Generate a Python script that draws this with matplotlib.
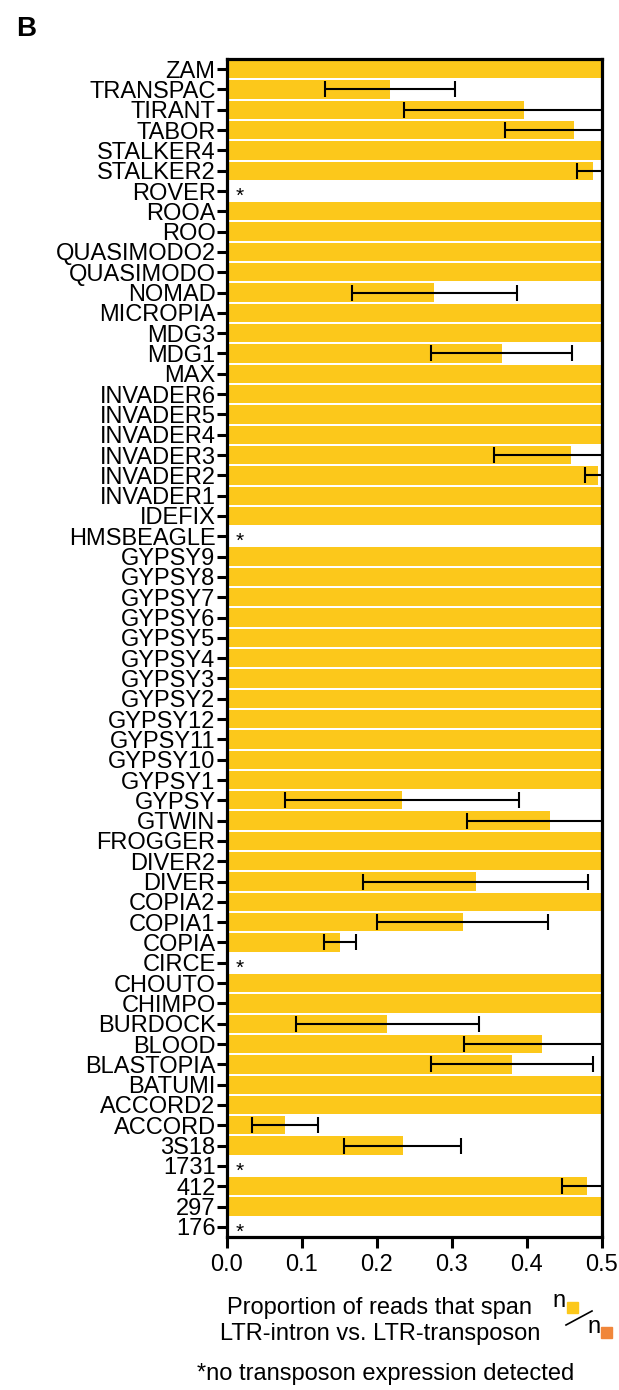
import numpy as np
import matplotlib
matplotlib.use('Agg')
import matplotlib.pyplot as plt
from matplotlib.patches import Rectangle
from matplotlib.lines import Line2D

plt.rcParams['font.family'] = ['Liberation Sans', 'DejaVu Sans']

labels = ['ZAM', 'TRANSPAC', 'TIRANT', 'TABOR', 'STALKER4', 'STALKER2', 'ROVER',
          'ROOA', 'ROO', 'QUASIMODO2', 'QUASIMODO', 'NOMAD', 'MICROPIA', 'MDG3',
          'MDG1', 'MAX', 'INVADER6', 'INVADER5', 'INVADER4', 'INVADER3', 'INVADER2',
          'INVADER1', 'IDEFIX', 'HMSBEAGLE', 'GYPSY9', 'GYPSY8', 'GYPSY7', 'GYPSY6',
          'GYPSY5', 'GYPSY4', 'GYPSY3', 'GYPSY2', 'GYPSY12', 'GYPSY11', 'GYPSY10',
          'GYPSY1', 'GYPSY', 'GTWIN', 'FROGGER', 'DIVER2', 'DIVER', 'COPIA2',
          'COPIA1', 'COPIA', 'CIRCE', 'CHOUTO', 'CHIMPO', 'BURDOCK', 'BLOOD',
          'BLASTOPIA', 'BATUMI', 'ACCORD2', 'ACCORD', '3S18', '1731', '412', '297', '176']

proportion = [0.5, 0.218, 0.397, 0.463, 0.5, 0.489, 0.0,
              0.5, 0.5, 0.5, 0.5, 0.277, 0.5, 0.5,
              0.367, 0.5, 0.5, 0.5, 0.5, 0.459, 0.495,
              0.5, 0.5, 0.0, 0.5, 0.5, 0.5, 0.5,
              0.5, 0.5, 0.5, 0.5, 0.5, 0.5, 0.5,
              0.5, 0.234, 0.431, 0.5, 0.5, 0.332, 0.5,
              0.315, 0.151, 0.0, 0.5, 0.5, 0.214, 0.421,
              0.381, 0.5, 0.5, 0.078, 0.235, 0.0, 0.480, 0.5, 0.0]

error = [0, 0.087, 0.161, 0.092, 0, 0.022, 0,
         0, 0, 0, 0, 0.110, 0, 0,
         0.094, 0, 0, 0, 0, 0.103, 0.017,
         0, 0, 0, 0, 0, 0, 0,
         0, 0, 0, 0, 0, 0, 0,
         0, 0.156, 0.111, 0, 0, 0.150, 0,
         0.114, 0.021, 0, 0, 0, 0.122, 0.105,
         0.108, 0, 0, 0.044, 0.078, 0, 0.033, 0, 0]

not_detected = ['ROVER', 'HMSBEAGLE', 'CIRCE', '1731', '176']

yellow = '#FCC81B'
orange = '#F0863A'

W, H = 619, 1390
fig = plt.figure(figsize=(W / 100, H / 100), dpi=100)
ax = fig.add_axes([226.7 / W, 1 - 1237 / H, 375 / W, 1178 / H])

y = np.arange(len(labels))
ax.barh(y, proportion, height=0.9, color=yellow, edgecolor='none')

err = np.array(error)
has_err = err > 0
ax.errorbar(np.array(proportion)[has_err], y[has_err], xerr=err[has_err], fmt='none',
            ecolor='black', elinewidth=1.5, capsize=6, capthick=1.5)

for name in not_detected:
    i = labels.index(name)
    ax.text(0.017, i + 0.25, '*', ha='center', va='center', fontsize=15)

ax.set_ylim(len(labels) - 0.5, -0.5)
ax.set_xlim(0, 0.5)
ax.set_yticks(y)
ax.set_yticklabels(labels, fontsize=17)
ax.set_xticks(np.arange(0, 0.51, 0.1))
ax.set_xticklabels(['0.0', '0.1', '0.2', '0.3', '0.4', '0.5'], fontsize=17)
for s in ax.spines.values():
    s.set_linewidth(2.3)
ax.tick_params(axis='y', length=7, width=2.2, pad=1)
ax.tick_params(axis='x', length=8, width=2.2, pad=4)

fig.text(16 / W, 1 - 16 / H, 'B', fontsize=20, fontweight='bold', ha='left', va='top')

fig.text(380 / W, 1 - 1321 / H, 'Proportion of reads that span\nLTR-intron vs. LTR-transposon',
         ha='center', va='center', fontsize=17, linespacing=1.2)
fig.text(386 / W, 1 - 1374 / H, '*no transposon expression detected',
         ha='center', va='center', fontsize=17)

# n(yellow) / n(orange) glyph
fig.text(552 / W, 1 - 1307 / H, 'n', ha='left', va='baseline', fontsize=17)
fig.text(587 / W, 1 - 1333 / H, 'n', ha='left', va='baseline', fontsize=17)
fig.patches.append(Rectangle((567 / W, 1 - 1313 / H), 11 / W, 11 / H,
                             transform=fig.transFigure, color=yellow, figure=fig))
fig.patches.append(Rectangle((601 / W, 1 - 1338 / H), 11 / W, 11 / H,
                             transform=fig.transFigure, color=orange, figure=fig))
fig.lines.append(Line2D([566 / W, 592 / W], [1 - 1325 / H, 1 - 1311 / H],
                        transform=fig.transFigure, color='black', linewidth=1.2, figure=fig))

fig.savefig('out.png', dpi=100)
